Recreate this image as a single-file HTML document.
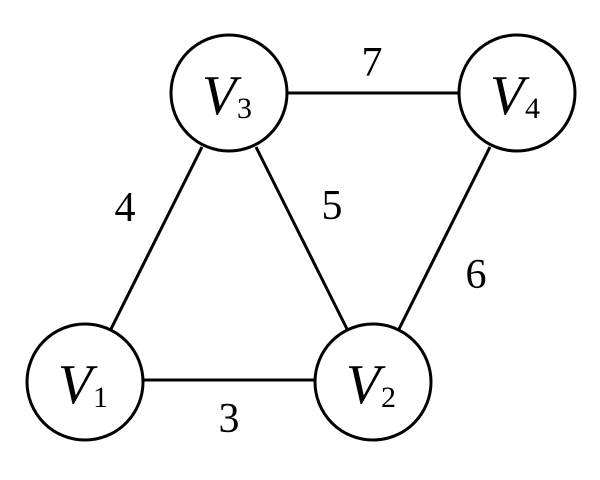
<!DOCTYPE html>
<html><head><meta charset="utf-8"><style>html,body{margin:0;padding:0;background:#fff;}</style></head>
<body>
<svg width="600" height="475" viewBox="0 0 600 475" xmlns="http://www.w3.org/2000/svg" font-family="'Liberation Serif', serif">
<g stroke="#000" stroke-width="3" fill="none">
<line x1="288" y1="93" x2="458" y2="93"/>
<line x1="202" y1="147" x2="111" y2="329"/>
<line x1="256" y1="147" x2="347" y2="329"/>
<line x1="490" y1="147" x2="399" y2="329"/>
<line x1="144" y1="380" x2="314" y2="380"/>
<circle cx="229" cy="93" r="58"/>
<circle cx="517" cy="93" r="58"/>
<circle cx="85" cy="382" r="58"/>
<circle cx="373" cy="382" r="58"/>
</g>
<g fill="#000" font-size="56" font-style="italic">
<text x="202" y="114">V</text>
<text x="490" y="114">V</text>
<text x="58" y="403">V</text>
<text x="346" y="403">V</text>
</g>
<g fill="#000" font-size="30">
<text x="237" y="118">3</text>
<text x="525" y="118">4</text>
<text x="93" y="407">1</text>
<text x="381" y="407">2</text>
</g>
<g fill="#000" font-size="42" text-anchor="middle">
<text x="372" y="76">7</text>
<text x="125" y="221">4</text>
<text x="332" y="219">5</text>
<text x="476" y="288">6</text>
<text x="229" y="432">3</text>
</g>
</svg>
</body></html>
